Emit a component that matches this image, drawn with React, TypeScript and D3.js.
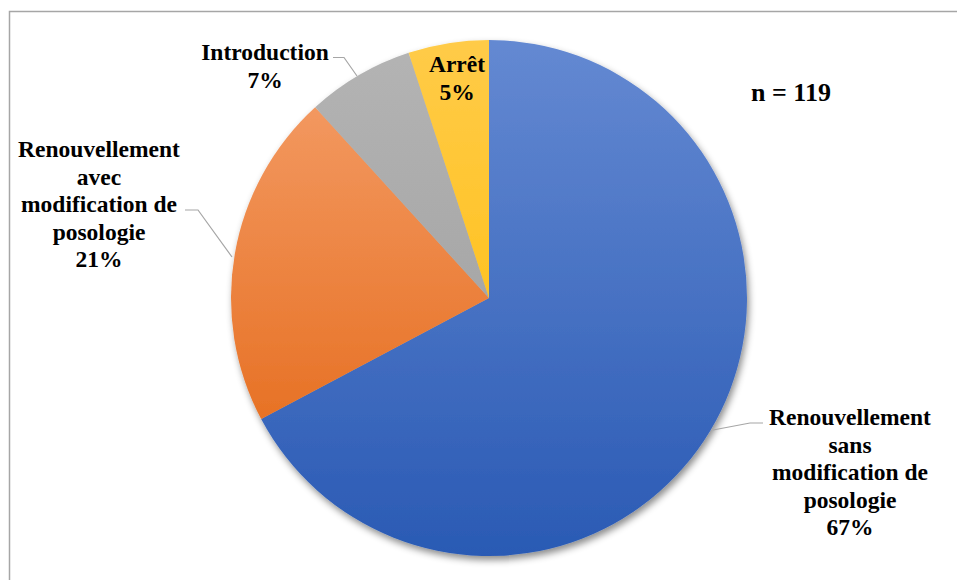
import React from "react";
import * as d3 from "d3";

const categories = [
  ["Renouvellement", "sans", "modification de", "posologie"],
  ["Renouvellement", "avec", "modification de", "posologie"],
  ["Introduction"],
  ["Arrêt"],
];
const counts = [80, 25, 8, 6];
const total = 119;
const colorsTop = ["#6489d2", "#f5a06c", "#b4b4b4", "#ffcb48"];
const colorsBottom = ["#2a5ab4", "#e2610c", "#9a9a9a", "#ffbb00"];

// label layout: center x, first baseline y, leader polyline
const labelLayout = [
  { x: 850, y: 425, leader: [[713, 430], [750, 423], [763, 423]] },
  { x: 99, y: 157, leader: [[232, 257], [198, 210], [185, 210]] },
  { x: 265, y: 60, leader: [[357, 76], [344, 57.5], [333, 57.5]] },
  { x: 457, y: 72, leader: null },
];

export default function App() {
  const W = 957, H = 580;
  const cx = 489, cy = 298, r = 258;
  const pie = d3.pie<number>().sort(null).value((d) => d);
  const arcs = pie(counts);
  const arcGen = d3.arc<d3.PieArcDatum<number>>().innerRadius(0).outerRadius(r);
  const lh = 27.5;
  return (
    <svg width={W} height={H} style={{ position: "absolute", left: 0, top: 0, background: "#fff" }}
      fontFamily="Liberation Serif, Times New Roman, serif">
      <defs>
        {counts.map((_, i) => (
          <linearGradient key={i} id={`g${i}`} gradientUnits="userSpaceOnUse" x1={0} y1={-r} x2={0} y2={r}>
            <stop offset="0" stopColor={colorsTop[i]} />
            <stop offset="1" stopColor={colorsBottom[i]} />
          </linearGradient>
        ))}
        <filter id="sh" x="-20%" y="-20%" width="140%" height="140%">
          <feDropShadow dx="2" dy="4" stdDeviation="3.5" floodColor="#000" floodOpacity="0.45" />
        </filter>
      </defs>
      <path d={`M9.5,${H} V11.5 H${W}`} fill="none" stroke="#a6a6a6" strokeWidth={1.5} />
      <g transform={`translate(${cx},${cy})`} filter="url(#sh)">
        {arcs.map((a, i) => (
          <path key={i} d={arcGen(a) || ""} fill={`url(#g${i})`} />
        ))}
      </g>
      {labelLayout.map((l, i) =>
        l.leader ? (
          <polyline key={"l" + i} points={l.leader.map((p) => p.join(",")).join(" ")} fill="none" stroke="#a6a6a6" strokeWidth={1.2} />
        ) : null
      )}
      {labelLayout.map((l, i) => {
        const lines = [...categories[i], `${Math.round((counts[i] / total) * 100)}%`];
        return (
          <text key={"t" + i} x={l.x} y={l.y} textAnchor="middle" fontWeight="bold" fontSize={23.5} fill="#000">
            {lines.map((s, j) => (
              <tspan key={j} x={l.x} y={l.y + j * lh}>{s}</tspan>
            ))}
          </text>
        );
      })}
      <text x={791} y={101} textAnchor="middle" fontWeight="bold" fontSize={26} fill="#000">{`n = ${total}`}</text>
    </svg>
  );
}
